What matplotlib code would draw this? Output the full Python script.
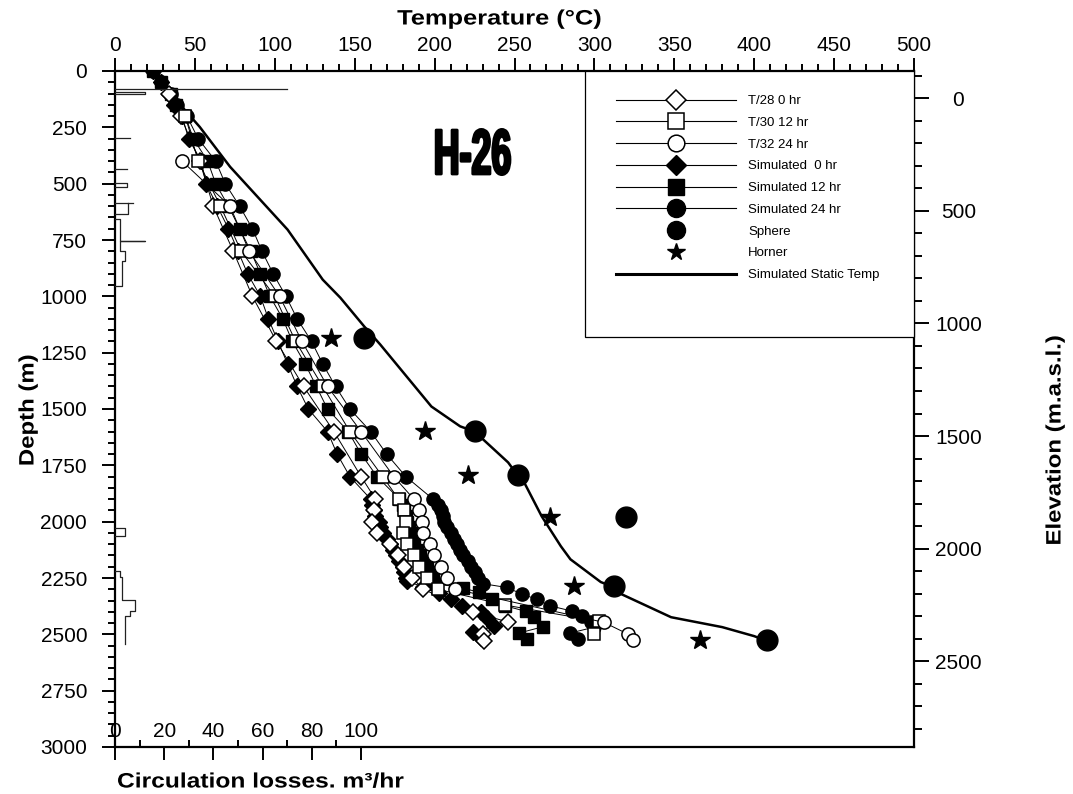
import numpy as np
import matplotlib
matplotlib.use("Agg")
import matplotlib.pyplot as plt
from matplotlib.ticker import MultipleLocator, FixedLocator
from matplotlib.lines import Line2D
from matplotlib.patches import Rectangle
from matplotlib.transforms import Affine2D
import matplotlib.patheffects as pe

plt.rcParams['font.family'] = ['Liberation Sans', 'DejaVu Sans']

nan = np.nan

# ---------------- data ----------------
# Simulated 0 hr (filled diamond)
sim0_depth = [0, 50, 100, 150, 200, 300, 400, 500, 600, 700, 800, 900, 1000, 1100, 1200, 1300, 1400, 1500,
              1600, 1700, 1800, 1900, 1925, 1950, 1975, 2000, 2025, 2050, 2075, 2100, 2125, 2150, 2175, 2200,
              2225, 2250, 2265, 2290, 2315, 2345, 2373, 2400, 2428, 2465, 2490, 2517]
sim0_temp = [24, 29, 34, 37, 42, 46, 54, 57, 64, 71, 77, 83, 91, 96, 102, 108, 114, 121,
             133, 139, 147, 160, 161, 162, 163, 165, 166, 168, 170, 172, 174, 176, 178, 180,
             181, 182, 183, 193, 203, 210, 217, 229, 233, 237, 224, 229]

# Simulated 12 hr (filled square)
sim12_depth = [0, 50, 100, 150, 200, 300, 400, 500, 600, 700, 800, 900, 1000, 1100, 1200, 1300, 1400, 1500,
               1600, 1700, 1800, 1900, 1925, 1950, 1975, 2000, 2025, 2050, 2075, 2100, 2125, 2150, 2175, 2200,
               2225, 2250, 2275, 2295, 2314, 2345, 2373, 2398, 2425, 2466, 2494, 2521]
sim12_temp = [24, 29, 35, 38, 44, 49, 58, 63, 71, 78, 85, 91, 97, 105, 111, 119, 126, 133,
              146, 154, 164, 178, 180, 181, 182, 183, 184, 185, 186, 187, 189, 191, 193, 195,
              197, 199, 201, 218, 228, 236, 244, 257, 262, 268, 253, 258]

# Simulated 24 hr (filled circle)
sim24_depth = [0, 50, 100, 150, 200, 300, 400, 500, 600, 700, 800, 900, 1000, 1100, 1200, 1300, 1400, 1500,
               1600, 1700, 1800, 1900, 1925, 1950, 1975, 2000, 2025, 2050, 2075, 2100, 2125, 2150, 2175, 2200,
               2225, 2250, 2275, 2292, 2322, 2345, 2373, 2397, 2420, 2447, 2468, 2494, 2521]
sim24_temp = [24, 29, 35, 39, 45, 52, 63, 69, 78, 86, 92, 99, 107, 114, 123, 130, 138, 147,
              160, 170, 182, 199, 202, 204, 205, 206, 208, 210, 212, 214, 216, 218, 221, 223,
              225, 227, 230, 245, 255, 264, 272, 286, 292, 298, 300, 285, 290]

# T/28 0 hr (open diamond)
t28_depth = [100, 200, 400, 600, 800, 1000, 1200, 1400, 1600, 1800, 1900, 1950, 2000, 2050, 2100, 2150,
             2200, 2250, 2300, 2400, 2446, 2499, 2530]
t28_temp = [34, 41, 53, 61.5, 74, 86, 101, 118, 137, 154, 163, 162, 161, 164, 172, 177,
            181, 186, 193, 224, 246, 230, 231]

# T/30 12 hr (open square)
t30_depth = [200, 400, 600, 800, 1000, 1200, 1400, 1600, 1800, 1900, 1950, 2000, 2050, 2100, 2150, 2200,
             2250, 2300, 2370, 2443, 2500]
t30_temp = [44, 52, 66, 79, 100, 113, 130, 147, 167.5, 177.5, 181, 182, 180, 183, 187, 190,
            195, 202, 244, 303, 300]

# T/32 24 hr (open circle)
t32_depth = [400, 600, 800, 1000, 1200, 1400, 1600, 1800, 1900, 1950, 2000, 2050, 2100, 2150, 2200,
             2250, 2300, 2447, 2499, 2525]
t32_temp = [42, 72, 84, 103, 117, 133, 154, 174.5, 187, 190, 192, 193, 197, 199.5, 204,
            208, 213, 306, 321, 324]

# Sphere and Horner estimates
sphere_depth = [1185, 1597, 1795, 1981, 2287, 2527]
sphere_temp = [156, 225, 252, 320, 312, 408]
horner_depth = [1185, 1597, 1795, 1981, 2287, 2527]
horner_temp = [135, 194, 221, 272, 287, 366]

# Simulated static temperature
static_depth = [62, 151, 248, 425, 704, 926, 1006, 1134, 1214, 1489, 1577, 1600, 1737, 1795, 1825, 1976,
                2109, 2167, 2268, 2290, 2322, 2424, 2468, 2508, 2530]
static_temp = [30, 41, 53, 72, 108, 130, 141, 156, 166, 198, 216, 225, 246, 252, 256, 267,
               279, 285, 304, 312, 317, 348, 380, 400, 408]

# Circulation losses (m3/hr) vs depth, step outline
loss_rate = [0, 70, nan,
             0, 12, 12, 0, nan,
             0, 6, nan,
             0, 5, nan,
             0, 5, 5, 0, nan,
             0, 7.3, nan, 5.3, 5.3, 0, nan,
             0, 2, 2, 12, 12, 2, 2, 4, 4, 3, 3, 0, nan,
             0, 4, 4, 0, nan,
             0, 2, 2, 3, 3, 8, 8, 6, 6, 4, 4]
loss_depth = [78, 78, nan,
              95, 95, 102, 102, nan,
              297, 297, nan,
              434, 434, nan,
              496, 496, 514, 514, nan,
              588, 588, nan, 588, 635, 635, nan,
              656, 656, 753, 753, 756, 756, 797, 797, 845, 845, 956, 956, nan,
              2030, 2030, 2065, 2065, nan,
              2220, 2220, 2247, 2247, 2348, 2348, 2397, 2397, 2420, 2420, 2543]

temp_ticks = list(range(0, 501, 50))
depth_ticks = list(range(0, 3001, 250))
elev_ticks = list(range(0, 2501, 500))
loss_ticks = list(range(0, 101, 20))

legend_labels = ['T/28 0 hr', 'T/30 12 hr', 'T/32 24 hr', 'Simulated  0 hr', 'Simulated 12 hr',
                 'Simulated 24 hr', 'Sphere', 'Horner', 'Simulated Static Temp']


class Squeeze(pe.AbstractPathEffect):
    """Scale the drawn glyph outlines about a display point (optionally stroke them)."""

    def __init__(self, center, sx=1.0, sy=1.0, lw=0.0):
        super().__init__()
        self.cx, self.cy = center
        self.sx, self.sy, self.lw = sx, sy, lw

    def draw_path(self, renderer, gc, tpath, affine, rgbFace=None):
        t = affine + Affine2D().translate(-self.cx, -self.cy).scale(self.sx, self.sy).translate(self.cx, self.cy)
        gc0 = renderer.new_gc()
        gc0.copy_properties(gc)
        if self.lw > 0:
            gc0.set_linewidth(self.lw)
            gc0.set_foreground('black')
        renderer.draw_path(gc0, tpath, t, rgbFace)
        gc0.restore()


# ---------------- figure ----------------
W, H = 1073, 794
fig = plt.figure(figsize=(W / 100, H / 100), dpi=100)
L, R, T, B = 115, 914, 71, 747
ax = fig.add_axes([L / W, 1 - B / H, (R - L) / W, (B - T) / H])
ax_c = ax.twiny()
ax_r = ax.twinx()

ax.set_xlim(0, 500)
ax.set_ylim(3000, 0)
ax.xaxis.tick_top()
ax.yaxis.tick_left()
ax.set_xticks(temp_ticks)
ax.xaxis.set_minor_locator(MultipleLocator(10))
ax.set_yticks(depth_ticks)
ax.yaxis.set_minor_locator(MultipleLocator(50))
ax.tick_params(axis='x', which='major', direction='out', length=9.5, width=1.4, labelsize=15, pad=2)
ax.tick_params(axis='x', which='minor', direction='out', length=5, width=1.4)
ax.tick_params(axis='y', which='major', direction='out', length=9.5, width=1.4, labelsize=15, pad=10.5)
ax.tick_params(axis='y', which='minor', direction='out', length=5, width=1.4)
for s in ax.spines.values():
    s.set_linewidth(1.6)

# circulation loss axis (bottom)
loss_scale = (R - L) / 246.0 * 100  # 100 units = 246 px
ax_c.set_xlim(0, loss_scale)
ax_c.xaxis.tick_bottom()
ax_c.xaxis.set_major_locator(FixedLocator(loss_ticks))
ax_c.xaxis.set_minor_locator(FixedLocator([10, 30, 50, 70, 90]))
ax_c.tick_params(axis='x', which='major', direction='out', length=9, width=1.4, labelsize=15, pad=-27)
ax_c.tick_params(axis='x', which='minor', direction='in', length=5, width=1.4)
for s in ax_c.spines.values():
    s.set_visible(False)

# elevation axis (right)
ax_r.set_ylim(3000 - 120, -120)
ax_r.yaxis.set_major_locator(FixedLocator(elev_ticks))
ax_r.yaxis.set_minor_locator(FixedLocator(list(range(-100, 2900, 100))))
ax_r.tick_params(axis='y', which='major', direction='out', length=11, width=1.4, labelsize=15, pad=21)
ax_r.tick_params(axis='y', which='minor', direction='out', length=6, width=1.4)
for lab in ax_r.get_yticklabels():
    lab.set_horizontalalignment('center')
for s in ax_r.spines.values():
    s.set_visible(False)

# ---------------- data drawing ----------------
lw = 0.7
ax.plot(static_temp, static_depth, color='black', lw=1.8, zorder=2)
ax.plot(sim0_temp, sim0_depth, color='black', lw=lw, marker='D', ms=8, mfc='black', mec='black', zorder=3)
ax.plot(sim12_temp, sim12_depth, color='black', lw=lw, marker='s', ms=9, mfc='black', mec='black', zorder=3)
ax.plot(sim24_temp, sim24_depth, color='black', lw=lw, marker='o', ms=9.5, mfc='black', mec='black', zorder=3)
ax.plot(t28_temp, t28_depth, color='black', lw=lw, marker='D', ms=8, mfc='white', mec='black', mew=1.1, zorder=4)
ax.plot(t30_temp, t30_depth, color='black', lw=lw, marker='s', ms=9, mfc='white', mec='black', mew=1.1, zorder=4)
ax.plot(t32_temp, t32_depth, color='black', lw=lw, marker='o', ms=9.5, mfc='white', mec='black', mew=1.1, zorder=4)
ax.plot(sphere_temp, sphere_depth, ls='none', marker='o', ms=15, mfc='black', mec='black', zorder=5)
ax.plot(horner_temp, horner_depth, ls='none', marker='*', ms=15, mfc='black', mec='black', zorder=5)

ax_c.plot(loss_rate, loss_depth, color='#222222', lw=0.9)

# ---------------- legend ----------------
frame = Rectangle((585 / W, 1 - 337 / H), (R - 585) / W, (337 - T) / H, transform=fig.transFigure,
                  facecolor='white', edgecolor='black', lw=0.9, zorder=6, clip_on=False)
ax_r.add_patch(frame)
handles = [
    Line2D([], [], color='black', lw=0.8, marker='D', ms=10, mfc='white', mec='black', mew=1.1),
    Line2D([], [], color='black', lw=0.8, marker='s', ms=12, mfc='white', mec='black', mew=1.1),
    Line2D([], [], color='black', lw=0.8, marker='o', ms=12, mfc='white', mec='black', mew=1.1),
    Line2D([], [], color='black', lw=0.8, marker='D', ms=10, mfc='black', mec='black'),
    Line2D([], [], color='black', lw=0.8, marker='s', ms=12, mfc='black', mec='black'),
    Line2D([], [], color='black', lw=0.8, marker='o', ms=13, mfc='black', mec='black'),
    Line2D([], [], ls='none', marker='o', ms=13, mfc='black', mec='black'),
    Line2D([], [], ls='none', marker='*', ms=13, mfc='black', mec='black'),
    Line2D([], [], color='black', lw=2.2),
]
leg = ax_r.legend(handles, legend_labels, loc='upper left', bbox_to_anchor=(616 / W, 1 - 95 / H),
                  bbox_transform=fig.transFigure, frameon=False, fontsize=9.5, handlelength=9.1,
                  handletextpad=0.9, labelspacing=0.72, borderpad=0, borderaxespad=0)
leg.set_zorder(7)

# ---------------- texts ----------------
hx, hy = 472.5, 174.0  # centre x and baseline y (pixels from top-left)
fig.text(hx / W, 1 - hy / H, 'H-26', fontsize=46, fontweight='bold',
         ha='center', va='baseline',
         path_effects=[Squeeze((hx, H - hy), sx=0.56, sy=1.0, lw=2.0)])

tx, ty = 500, 19
fig.text(tx / W, 1 - ty / H, 'Temperature (°C)', fontsize=15, fontweight='bold', ha='center', va='center',
         path_effects=[Squeeze((tx, H - ty), sx=1.22)])
dx, dy = 28, 410
fig.text(dx / W, 1 - dy / H, 'Depth (m)', fontsize=15, fontweight='bold', rotation=90, ha='center', va='center',
         path_effects=[Squeeze((dx, H - dy), sy=1.15)])
ex, ey = 1055, 440
fig.text(ex / W, 1 - ey / H, 'Elevation (m.a.s.l.)', fontsize=15, fontweight='bold', rotation=90,
         ha='center', va='center', path_effects=[Squeeze((ex, H - ey), sy=1.15)])
cx, cy = 117, 782
fig.text(cx / W, 1 - cy / H, 'Circulation losses. m³/hr', fontsize=15, fontweight='bold', ha='left', va='center',
         path_effects=[Squeeze((cx, H - cy), sx=1.18)])

fig.savefig('out.png', dpi=100)
